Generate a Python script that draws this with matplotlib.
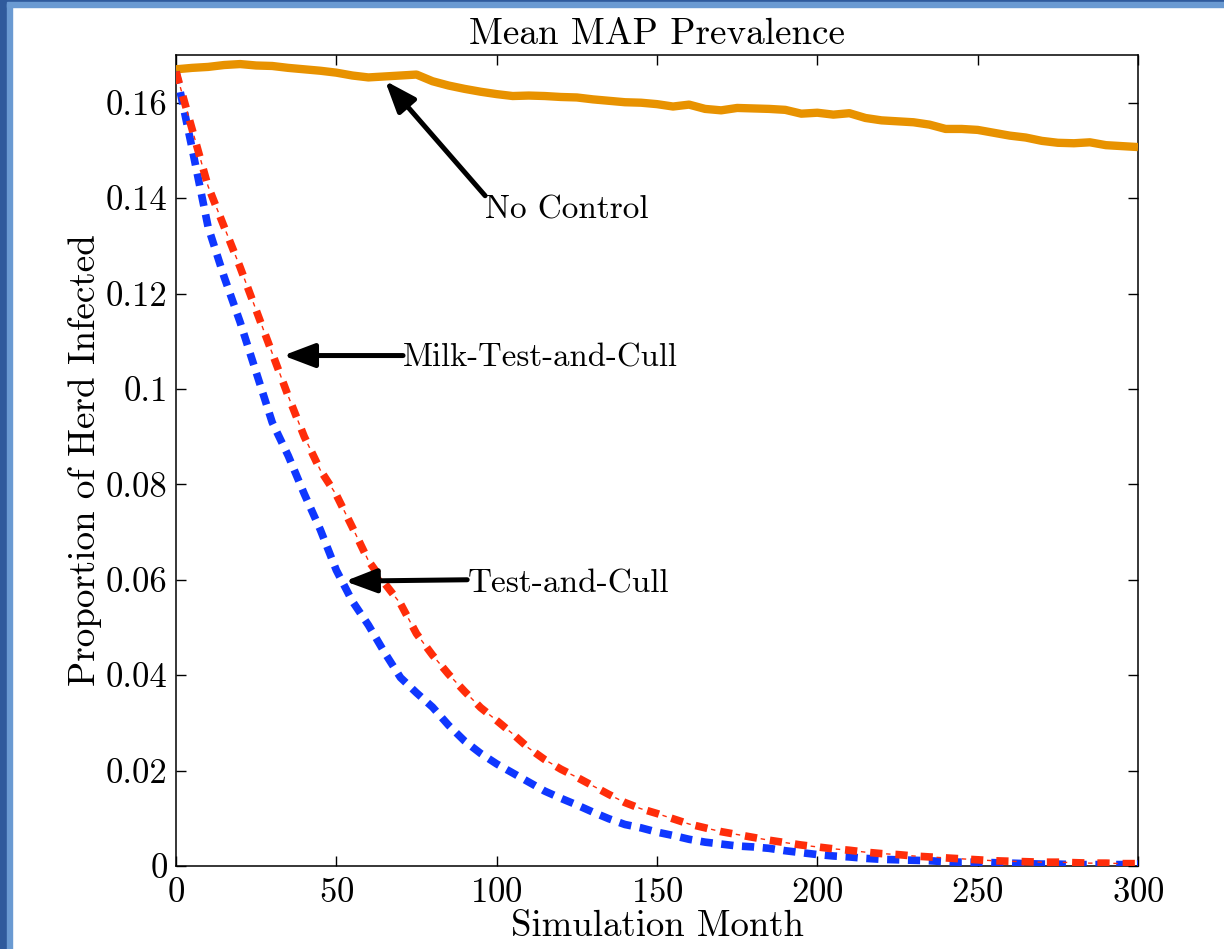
# Mean MAP prevalence under three control strategies
import numpy as np
import matplotlib
matplotlib.use('Agg')
import matplotlib.pyplot as plt
from matplotlib.patches import Rectangle

plt.rcParams['font.family'] = ['cmr10', 'DejaVu Serif']
plt.rcParams['axes.formatter.use_mathtext'] = True
plt.rcParams['lines.scale_dashes'] = False

months = np.arange(0, 301, 5)

# No Control
no_control = [0.1670, 0.1673, 0.1675, 0.1679, 0.1681, 0.1678, 0.1677, 0.1673, 0.1670, 0.1667,
              0.1663, 0.1657, 0.1653, 0.1655, 0.1657, 0.1659, 0.1645, 0.1636, 0.1629, 0.1623,
              0.1618, 0.1614, 0.1615, 0.1614, 0.1612, 0.1611, 0.1607, 0.1604, 0.1601, 0.1600,
              0.1597, 0.1592, 0.1596, 0.1587, 0.1584, 0.1589, 0.1588, 0.1587, 0.1585, 0.1577,
              0.1579, 0.1575, 0.1578, 0.1568, 0.1563, 0.1561, 0.1559, 0.1554, 0.1545, 0.1545,
              0.1543, 0.1537, 0.1531, 0.1527, 0.1520, 0.1516, 0.1515, 0.1517, 0.1511, 0.1509,
              0.1507]

# Milk-Test-and-Cull
milk_tc = [0.1665, 0.1545, 0.1425, 0.1340, 0.1255, 0.1165, 0.1075, 0.0985, 0.0900, 0.0830,
           0.0778, 0.0710, 0.0640, 0.0593, 0.0550, 0.0487, 0.0442, 0.0402, 0.0366, 0.0332,
           0.0305, 0.0277, 0.0247, 0.0223, 0.0203, 0.0186, 0.0168, 0.0150, 0.0133, 0.0120,
           0.0110, 0.0099, 0.0088, 0.0080, 0.0072, 0.0066, 0.0060, 0.0054, 0.0049, 0.0044,
           0.0040, 0.0036, 0.0033, 0.0029, 0.0026, 0.0024, 0.0021, 0.0019, 0.0017, 0.0015,
           0.0013, 0.0011, 0.0010, 0.0009, 0.0008, 0.0008, 0.0007, 0.0006, 0.0006, 0.0005,
           0.0005]

# Test-and-Cull
test_cull = [0.1665, 0.1505, 0.1340, 0.1235, 0.1140, 0.1035, 0.0930, 0.0860, 0.0780, 0.0705,
             0.0620, 0.0555, 0.0505, 0.0448, 0.0395, 0.0363, 0.0333, 0.0295, 0.0262, 0.0236,
             0.0214, 0.0195, 0.0176, 0.0157, 0.0142, 0.0128, 0.0113, 0.0099, 0.0087, 0.0080,
             0.0071, 0.0064, 0.0056, 0.0050, 0.0046, 0.0042, 0.0040, 0.0037, 0.0032, 0.0028,
             0.0024, 0.0021, 0.0019, 0.0016, 0.0014, 0.0013, 0.0012, 0.0011, 0.0009, 0.0008,
             0.0008, 0.0007, 0.0006, 0.0005, 0.0004, 0.0004, 0.0003, 0.0003, 0.0003, 0.0003,
             0.0004]

yticks = [0, 0.02, 0.04, 0.06, 0.08, 0.1, 0.12, 0.14, 0.16]
ytick_labels = ['0', '0.02', '0.04', '0.06', '0.08', '0.1', '0.12', '0.14', '0.16']
xticks = [0, 50, 100, 150, 200, 250, 300]

orange = '#E89200'
red = '#FF2D0A'
blue = '#0F37FF'

fig = plt.figure(figsize=(12.24, 9.49), dpi=100)
fig.patch.set_facecolor('white')

# slide frame on the left and top
fig.patches.append(Rectangle((0, 0), 7 / 1224, 1, transform=fig.transFigure,
                             color='#2F5A9C', zorder=0))
fig.patches.append(Rectangle((7 / 1224, 0), 5.5 / 1224, 1, transform=fig.transFigure,
                             color='#6A9AD2', zorder=0))
fig.patches.append(Rectangle((0, 1 - 2.5 / 949), 1, 2.5 / 949, transform=fig.transFigure,
                             color='#2F5A9C', zorder=0))
fig.patches.append(Rectangle((7 / 1224, 1 - 7 / 949), 1, 4.5 / 949, transform=fig.transFigure,
                             color='#6A9AD2', zorder=0))

ax = fig.add_axes([176 / 1224, 1 - 866 / 949, 962 / 1224, 811 / 949])

ax.plot(months, no_control, color=orange, lw=6.0, solid_capstyle='butt', zorder=3)
ax.plot(months, test_cull, color=blue, lw=5.5, dashes=(8.8, 6.2), zorder=4)
ax.plot(months, milk_tc, color=red, lw=5.5, dashes=(8.8, 9.4), zorder=5)
ax.plot(months, milk_tc, color=red, lw=1.0, linestyle=(6.7, (3.2, 15.0)), zorder=5)

ax.set_xlim(0, 300)
ax.set_ylim(0, 0.17)
ax.set_xticks(xticks)
ax.set_yticks(yticks)
ax.set_yticklabels(ytick_labels)
ax.tick_params(direction='in', length=7, width=1, labelsize=25, top=True, right=True)
ax.tick_params(axis='x', pad=8)
ax.tick_params(axis='y', pad=6)
for s in ax.spines.values():
    s.set_linewidth(1.1)

ax.set_title('Mean MAP Prevalence', fontsize=26.7, pad=8)
ax.set_xlabel('Simulation Month', fontsize=26.5, labelpad=1)
ax.set_ylabel('Proportion of Herd Infected', fontsize=26.7, labelpad=3)

arrow = dict(arrowstyle='-|>,head_length=1.0,head_width=0.38', color='black', lw=3.6,
             shrinkA=0, shrinkB=0, mutation_scale=19)
ax.annotate('', xy=(65.2, 0.1646), xytext=(96.4, 0.1405), arrowprops=arrow, zorder=6)
ax.annotate('', xy=(33.4, 0.1070), xytext=(70.8, 0.1070), arrowprops=arrow, zorder=6)
ax.annotate('', xy=(52.7, 0.0597), xytext=(90.8, 0.0600), arrowprops=arrow, zorder=6)

ax.text(96.4, 0.1376, 'No Control', fontsize=24, ha='left', va='center')
ax.text(70.8, 0.1064, 'Milk-Test-and-Cull', fontsize=23.6, ha='left', va='center')
ax.text(91.0, 0.0592, 'Test-and-Cull', fontsize=24, ha='left', va='center')

fig.savefig('out.png', dpi=100)
